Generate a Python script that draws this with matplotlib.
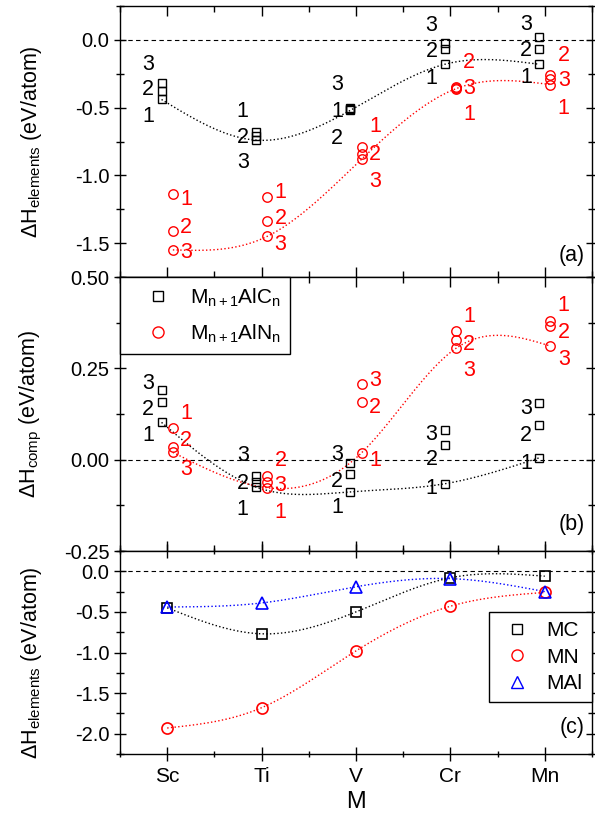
import numpy as np
import matplotlib.pyplot as plt
from matplotlib.ticker import MultipleLocator, FormatStrFormatter
from matplotlib.lines import Line2D

plt.rcParams['font.family'] = ['Liberation Sans', 'DejaVu Sans']
plt.rcParams['mathtext.fontset'] = 'custom'
plt.rcParams['mathtext.rm'] = 'Liberation Sans'
plt.rcParams['mathtext.it'] = 'Liberation Sans:italic'
plt.rcParams['axes.unicode_minus'] = False

elements = ['Sc', 'Ti', 'V', 'Cr', 'Mn']

# (a) formation enthalpy vs elements, rows = M, cols = n = 1, 2, 3
hel_carb = [[-0.44, -0.38, -0.32],
            [-0.68, -0.71, -0.74],
            [-0.51, -0.52, -0.50],
            [-0.18, -0.07, -0.02],
            [-0.18, -0.07, 0.02]]
hel_nitr = [[-1.135, -1.41, -1.55],
            [-1.16, -1.34, -1.45],
            [-0.79, -0.84, -0.88],
            [-0.36, -0.35, -0.355],
            [-0.33, -0.26, -0.29]]

# (b) enthalpy vs competing phases
hcomp_carb = [[0.102, 0.157, 0.192],
              [-0.075, -0.06, -0.045],
              [-0.088, -0.038, -0.008],
              [-0.066, 0.041, 0.080],
              [0.005, 0.096, 0.154]]
hcomp_nitr = [[0.088, 0.035, 0.020],
              [-0.077, -0.045, -0.06],
              [0.019, 0.157, 0.206],
              [0.352, 0.327, 0.305],
              [0.380, 0.366, 0.311]]

# (c) binaries
h_mc = [-0.45, -0.77, -0.50, -0.08, -0.06]
h_mn = [-1.93, -1.68, -0.98, -0.43, -0.26]
h_mal = [-0.44, -0.39, -0.19, -0.09, -0.25]

# where the n labels sit (y, data units)
lab_a_carb = [[-0.55, -0.35, -0.16], [-0.51, -0.70, -0.89], [-0.51, -0.71, -0.31],
              [-0.27, -0.066, 0.124], [-0.256, -0.059, 0.13]]
lab_a_nitr = [[-1.157, -1.369, -1.552], [-1.105, -1.303, -1.493], [-0.622, -0.827, -1.025],
              [-0.534, -0.146, -0.344], [-0.49, -0.095, -0.278]]
lab_b_carb = [[0.074, 0.143, 0.214], [-0.129, -0.058, 0.019], [-0.124, -0.052, 0.022],
              [-0.071, 0.008, 0.077], [-0.003, 0.074, 0.148]]
lab_b_nitr = [[0.132, 0.060, -0.019], [-0.137, 0.005, -0.063], [0.005, 0.151, 0.223],
              [0.398, 0.321, 0.25], [0.429, 0.354, 0.28]]


def natural_spline(xk, yk, num=300):
    xk = np.asarray(xk, float); yk = np.asarray(yk, float)
    n = len(xk)
    h = np.diff(xk)
    A = np.zeros((n, n)); b = np.zeros(n)
    A[0, 0] = A[-1, -1] = 1
    for i in range(1, n - 1):
        A[i, i - 1] = h[i - 1]; A[i, i] = 2 * (h[i - 1] + h[i]); A[i, i + 1] = h[i]
        b[i] = 6 * ((yk[i + 1] - yk[i]) / h[i] - (yk[i] - yk[i - 1]) / h[i - 1])
    M = np.linalg.solve(A, b)
    xs = np.linspace(xk[0], xk[-1], num)
    k = np.clip(np.searchsorted(xk, xs) - 1, 0, n - 2)
    hh = xk[k + 1] - xk[k]
    t0 = xk[k + 1] - xs; t1 = xs - xk[k]
    ys = (M[k] * t0**3 + M[k + 1] * t1**3) / (6 * hh) \
        + (yk[k] / hh - M[k] * hh / 6) * t0 + (yk[k + 1] / hh - M[k + 1] * hh / 6) * t1
    return xs, ys


xpos = np.arange(1, 6)
dx = 0.06
fs_num = 15.5
fs_tick = 14.5
fs_lab = 15.5


def max_panel(ax, carb, nitr, lab_c, lab_n):
    carb = np.asarray(carb); nitr = np.asarray(nitr)
    # guide line through the most stable n
    for vals, off, col in [(carb, -dx, 'k'), (nitr, dx, 'red')]:
        xs, ys = natural_spline(xpos + off, vals.min(axis=1))
        ax.plot(xs, ys, ls=':', color=col, lw=1.0, zorder=2)
    for j in range(3):
        ax.plot(xpos - dx, carb[:, j], 's', mfc='none', mec='k', ms=5.5, mew=1.0, zorder=3)
        ax.plot(xpos + dx, nitr[:, j], 'o', mfc='none', mec='red', ms=6.8, mew=1.0, zorder=3)
    for i in range(5):
        for j in range(3):
            ax.text(xpos[i] - 0.2, lab_c[i][j], str(j + 1), color='k', fontsize=fs_num,
                    ha='center', va='center_baseline')
            ax.text(xpos[i] + 0.2, lab_n[i][j], str(j + 1), color='red', fontsize=fs_num,
                    ha='center', va='center_baseline')


fig = plt.figure(figsize=(5.95, 8.13), dpi=100)
L, W = 120 / 595, 472 / 595
ax_a = fig.add_axes([L, 1 - 277 / 813, W, 271 / 813])
ax_b = fig.add_axes([L, 1 - 551 / 813, W, 274 / 813])
ax_c = fig.add_axes([L, 1 - 754 / 813, W, 203 / 813])

max_panel(ax_a, hel_carb, hel_nitr, lab_a_carb, lab_a_nitr)
max_panel(ax_b, hcomp_carb, hcomp_nitr, lab_b_carb, lab_b_nitr)

for vals, mk, col, ms in [(h_mc, 's', 'k', 6.5), (h_mn, 'o', 'red', 8), (h_mal, '^', 'blue', 8)]:
    xs, ys = natural_spline(xpos, vals)
    ax_c.plot(xs, ys, ls=':', color=col, lw=1.0, zorder=2)
    ax_c.plot(xpos, vals, mk, mfc='none', mec=col, ms=ms, mew=1.2, zorder=3)

ax_a.set_ylim(-1.75, 0.25)
ax_b.set_ylim(-0.25, 0.5)
ax_c.set_ylim(-2.25, 0.25)

ax_a.yaxis.set_major_locator(MultipleLocator(0.5)); ax_a.yaxis.set_minor_locator(MultipleLocator(0.25))
ax_b.yaxis.set_major_locator(MultipleLocator(0.25)); ax_b.yaxis.set_minor_locator(MultipleLocator(0.125))
ax_c.yaxis.set_major_locator(MultipleLocator(0.5)); ax_c.yaxis.set_minor_locator(MultipleLocator(0.25))
ax_a.yaxis.set_major_formatter(FormatStrFormatter('%.1f'))
ax_b.yaxis.set_major_formatter(FormatStrFormatter('%.2f'))
ax_c.yaxis.set_major_formatter(FormatStrFormatter('%.1f'))

for ax in (ax_a, ax_b, ax_c):
    ax.axhline(0, color='k', ls=(0, (4, 3)), lw=0.8, zorder=1)
    ax.set_xlim(0.5, 5.5)
    ax.set_xticks(xpos)
    ax.xaxis.set_minor_locator(MultipleLocator(0.5))
    for s in ax.spines.values():
        s.set_linewidth(1.0)
    ax.tick_params(axis='y', which='both', direction='inout', left=True, right=True,
                   labelsize=fs_tick, width=1.0, pad=3)
    ax.tick_params(axis='y', which='major', length=9)
    ax.tick_params(axis='y', which='minor', length=6)
    ax.tick_params(axis='x', which='both', direction='in', top=True, bottom=True, width=1.0)
    ax.tick_params(axis='x', which='major', length=7)
    ax.tick_params(axis='x', which='minor', length=4)

ax_a.set_yticks([0.0, -0.5, -1.0, -1.5])
ax_c.set_yticks([0.0, -0.5, -1.0, -1.5, -2.0])
ax_a.set_xticklabels([]); ax_b.set_xticklabels([])
ax_c.set_xticklabels(elements, fontsize=15)
ax_c.tick_params(axis='x', which='both', direction='inout')
ax_c.tick_params(axis='x', which='major', length=10, pad=4)
ax_c.set_xlabel('M', fontsize=17, labelpad=4)

ylab_el = r'$\Delta$H$_{\mathrm{elements}}$ (eV/atom)'
ax_a.set_ylabel(ylab_el, fontsize=fs_lab)
ax_b.set_ylabel(r'$\Delta$H$_{\mathrm{comp}}$ (eV/atom)', fontsize=fs_lab)
ax_c.set_ylabel(ylab_el, fontsize=fs_lab)
ax_a.yaxis.set_label_coords(-0.16, 0.5)
ax_b.yaxis.set_label_coords(-0.16, 0.5)
ax_c.yaxis.set_label_coords(-0.16, 0.45)

for ax, tag, yb in [(ax_a, '(a)', 0.04), (ax_b, '(b)', 0.06), (ax_c, '(c)', 0.08)]:
    ax.text(0.985, yb, tag, transform=ax.transAxes, ha='right', va='bottom', fontsize=15.5)

h_b = [Line2D([], [], ls='none', marker='s', mfc='none', mec='k', ms=6.5, mew=1.0),
       Line2D([], [], ls='none', marker='o', mfc='none', mec='red', ms=8, mew=1.0)]
leg_b = ax_b.legend(h_b, [r'M$_{\mathrm{n+1}}$AlC$_{\mathrm{n}}$', r'M$_{\mathrm{n+1}}$AlN$_{\mathrm{n}}$'],
                    loc='upper left', bbox_to_anchor=(0, 1), borderaxespad=0, fancybox=False,
                    edgecolor='k', fontsize=15, handlelength=2.7, handletextpad=0.2,
                    borderpad=0.45, labelspacing=0.65, framealpha=1)
leg_b.get_frame().set_linewidth(1.0)

h_c = [Line2D([], [], ls='none', marker='s', mfc='none', mec='k', ms=7, mew=1.0),
       Line2D([], [], ls='none', marker='o', mfc='none', mec='red', ms=8, mew=1.0),
       Line2D([], [], ls='none', marker='^', mfc='none', mec='blue', ms=8, mew=1.0)]
leg_c = ax_c.legend(h_c, ['MC', 'MN', 'MAl'], loc='upper right', bbox_to_anchor=(1.0, 0.70),
                    borderaxespad=0, fancybox=False, edgecolor='k', fontsize=15,
                    handlelength=1.8, handletextpad=0.5, borderpad=0.45, labelspacing=0.35,
                    framealpha=1)
leg_c.get_frame().set_linewidth(1.0)

fig.savefig('out.png', dpi=100)
